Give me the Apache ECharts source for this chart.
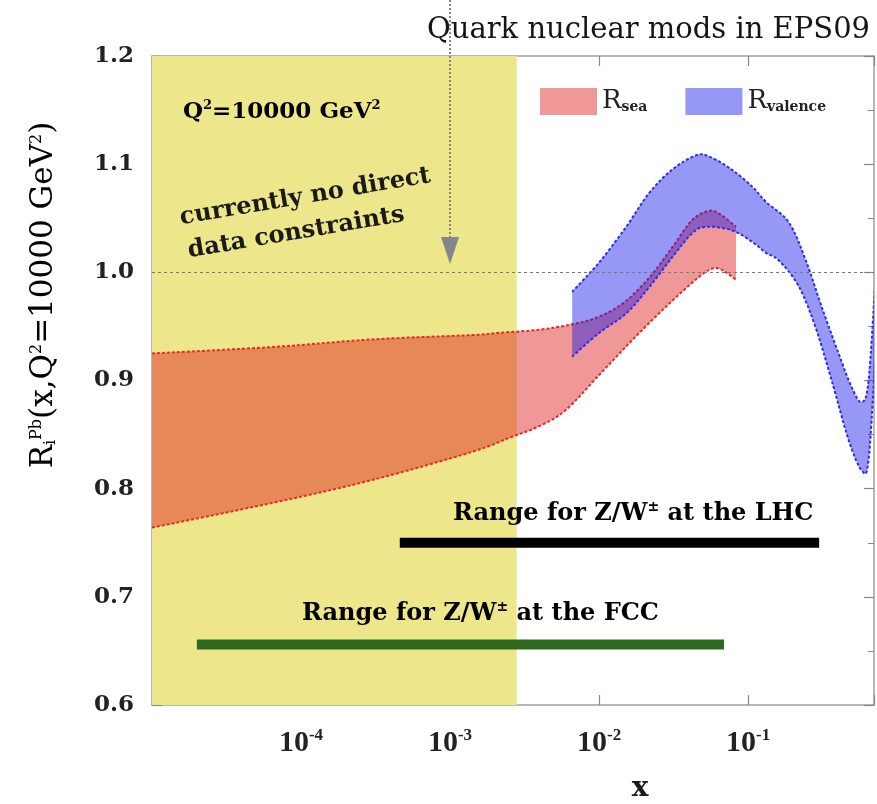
<!DOCTYPE html>
<html><head><meta charset="utf-8">
<script src="https://cdn.jsdelivr.net/npm/echarts@6/dist/echarts.min.js"></script>
<style>html,body{margin:0;padding:0;background:#fff}#c{width:877px;height:804px}</style>
</head><body><div id="c"></div>
<script>
// ---- data ----
const seaUpperX = [1e-5, 6.5e-5, 3e-4, 1.4e-3, 2.1e-3, 4e-3, 6.6e-3, 0.01, 0.015, 0.022, 0.031, 0.042, 0.055, 0.066, 0.083];
const seaUpperY = [0.925, 0.931, 0.938, 0.942, 0.944, 0.947, 0.952, 0.959, 0.973, 0.996, 1.023, 1.048, 1.057, 1.053, 1.042];
const seaLowerX = [1e-5, 6.5e-5, 3e-4, 1.4e-3, 2.6e-3, 4e-3, 6e-3, 0.01, 0.0166, 0.028, 0.047, 0.060, 0.071, 0.083];
const seaLowerY = [0.764, 0.787, 0.808, 0.834, 0.848, 0.858, 0.873, 0.905, 0.937, 0.968, 0.996, 1.004, 1.0, 0.993];
const valUpperX = [6.6e-3, 0.01, 0.0152, 0.0216, 0.031, 0.0446, 0.055, 0.0776, 0.107, 0.132, 0.188, 0.244, 0.312, 0.405, 0.495, 0.578, 0.644, 0.72];
const valUpperY = [0.982, 1.009, 1.042, 1.073, 1.095, 1.108, 1.107, 1.095, 1.079, 1.065, 1.046, 1.011, 0.968, 0.925, 0.894, 0.880, 0.900, 1.0];
const valLowerX = [6.6e-3, 0.01, 0.0152, 0.0216, 0.031, 0.042, 0.052, 0.0776, 0.107, 0.132, 0.161, 0.219, 0.284, 0.364, 0.473, 0.578, 0.644, 0.72];
const valLowerY = [0.922, 0.944, 0.962, 0.986, 1.014, 1.036, 1.042, 1.039, 1.028, 1.018, 1.011, 0.987, 0.949, 0.900, 0.845, 0.817, 0.827, 0.93];
const lhcRange = [4.6e-4, 0.30], lhcLevel = 0.750;
const fccRange = [2e-5, 0.069], fccLevel = 0.656;
const noDataRange = [1e-5, 0.0028];
const arrowX = 1e-3;
const refLevel = 1.0;
const xMin = 1e-5, xMax = 0.70, yMin = 0.6, yMax = 1.2, yStep = 0.1;

const SERIF = "'DejaVu Serif', serif";
const chart = echarts.init(document.getElementById('c'));

function f(p) { return p[0].toFixed(2) + ' ' + p[1].toFixed(2); }
function curve(pts) {
  let s = '';
  const n = pts.length, k = 1 / 6;
  for (let i = 0; i < n - 1; i++) {
    const p0 = pts[Math.max(i - 1, 0)], p1 = pts[i], p2 = pts[i + 1], p3 = pts[Math.min(i + 2, n - 1)];
    const c1 = [p1[0] + (p2[0] - p0[0]) * k, p1[1] + (p2[1] - p0[1]) * k];
    const c2 = [p2[0] - (p3[0] - p1[0]) * k, p2[1] - (p3[1] - p1[1]) * k];
    s += ' C ' + f(c1) + ' ' + f(c2) + ' ' + f(p2);
  }
  return s;
}

function band(name, ux, uy, lx, ly, fill, edge) {
  return {
    type: 'custom', name: name, coordinateSystem: 'cartesian2d', clip: true, z: 3,
    itemStyle: { color: fill },
    data: [[ux[0], uy[0]]],
    encode: { x: 0, y: 1 },
    renderItem: function (params, api) {
      const up = ux.map((x, i) => api.coord([x, uy[i]]));
      const lo = lx.map((x, i) => api.coord([x, ly[i]]));
      const rlo = lo.slice().reverse();
      const fillPath = 'M ' + f(up[0]) + curve(up) + ' L ' + f(rlo[0]) + curve(rlo) + ' Z';
      const upPath = 'M ' + f(up[0]) + curve(up);
      const loPath = 'M ' + f(lo[0]) + curve(lo);
      const es = { fill: 'none', stroke: edge, lineWidth: 2, lineDash: [3, 2] };
      return {
        type: 'group', children: [
          { type: 'path', shape: { pathData: fillPath }, style: { fill: fill, stroke: 'none' } },
          { type: 'path', shape: { pathData: upPath }, style: es },
          { type: 'path', shape: { pathData: loPath }, style: es }
        ]
      };
    }
  };
}

const axisLineStyle = { color: '#a0a0a0', width: 1.5 };
const tickStyle = { color: '#888', width: 1.2 };
const option = {
  animation: false,
  title: {
    text: 'Quark nuclear mods in EPS09', left: 422, top: 11,
    textStyle: { fontFamily: SERIF, fontWeight: 'normal', fontSize: 29, color: '#151515' }
  },
  legend: {
    left: 535, top: 83, itemWidth: 57, itemHeight: 27, itemGap: 38, icon: 'rect',
    data: ['sea', 'valence'],
    formatter: n => '{r|R}{s|' + n + '}',
    textStyle: {
      rich: {
        r: { fontFamily: SERIF, fontSize: 26, color: '#222' },
        s: { fontFamily: SERIF, fontSize: 14, color: '#222', fontWeight: 'bold', padding: [12, 0, 0, 0] }
      }
    }
  },
  grid: { left: 152, top: 56, right: 3, bottom: 99 },
  xAxis: [{
    type: 'log', logBase: 10, min: xMin, max: xMax,
    axisLine: { lineStyle: axisLineStyle },
    axisTick: { inside: true, length: 10, lineStyle: tickStyle },
    splitLine: { show: false },
    axisLabel: {
      margin: 22,
      formatter: v => { const e = Math.round(Math.log10(v)); if (e < -4 || e > -1) return ''; return '{b|10}{s|' + e + '}'; },
      rich: {
        b: { fontFamily: "'Liberation Serif', serif", fontWeight: 'bold', fontSize: 30, color: '#222' },
        s: { fontFamily: "'Liberation Serif', serif", fontWeight: 'bold', fontSize: 17, color: '#222', padding: [0, 0, 16, 0] }
      }
    }
  }, {
    type: 'log', logBase: 10, min: xMin, max: xMax, position: 'top',
    axisLine: { lineStyle: axisLineStyle },
    axisTick: { inside: true, length: 10, lineStyle: tickStyle },
    axisLabel: { show: false }, splitLine: { show: false }
  }],
  yAxis: [{
    type: 'value', min: yMin, max: yMax, interval: yStep,
    axisLine: { show: true, lineStyle: axisLineStyle },
    axisTick: { inside: true, length: 10, lineStyle: tickStyle },
    minorTick: { show: true, splitNumber: 2, length: 6, lineStyle: { color: '#888' } },
    splitLine: { show: false },
    axisLabel: { margin: 18, formatter: v => v.toFixed(1), fontFamily: SERIF, fontWeight: 'bold', fontSize: 23, color: '#222' }
  }, {
    type: 'value', min: yMin, max: yMax, interval: yStep, position: 'right',
    axisLine: { show: true, lineStyle: axisLineStyle },
    axisTick: { inside: true, length: 10, lineStyle: tickStyle },
    minorTick: { show: true, splitNumber: 2, length: 6, lineStyle: { color: '#888' } },
    splitLine: { show: false }, axisLabel: { show: false }
  }],
  series: [
    {
      type: 'line', name: 'bg', data: [], z: 1, silent: true,
      markArea: {
        silent: true, itemStyle: { color: '#EEE68B' },
        data: [[{ xAxis: noDataRange[0], yAxis: yMin }, { xAxis: noDataRange[1], yAxis: yMax }]]
      },
      markLine: {
        silent: true, symbol: 'none', label: { show: false },
        lineStyle: { color: '#777', type: [3, 3], width: 1 },
        data: [{ yAxis: refLevel }]
      }
    },
    band('sea', seaUpperX, seaUpperY, seaLowerX, seaLowerY, 'rgba(222,25,25,0.45)', 'rgb(235,40,40)'),
    band('valence', valUpperX, valUpperY, valLowerX, valLowerY, 'rgba(25,25,235,0.45)', 'rgb(45,45,240)'),
    {
      type: 'line', name: 'LHC', symbol: 'none', z: 4,
      data: [[lhcRange[0], lhcLevel], [lhcRange[1], lhcLevel]],
      lineStyle: { color: '#000', width: 10, cap: 'butt' }
    },
    {
      type: 'line', name: 'FCC', symbol: 'none', z: 4,
      data: [[fccRange[0], fccLevel], [fccRange[1], fccLevel]],
      lineStyle: { color: '#2d6a1d', width: 10, cap: 'butt' }
    }
  ]
};
chart.setOption(option);

const ax = chart.convertToPixel({ xAxisIndex: 0 }, arrowX);
const B = { fontFamily: SERIF, fontWeight: 'bold', fill: '#1a1a1a' };
const supRich = (fs, sfs, raise) => ({
  a: { fontFamily: SERIF, fontWeight: 'bold', fontSize: fs, color: '#1a1a1a' },
  s: { fontFamily: SERIF, fontWeight: 'bold', fontSize: sfs, color: '#1a1a1a', padding: [0, 0, raise, 0] }
});
chart.setOption({
  graphic: [
    { type: 'line', shape: { x1: ax, y1: 0, x2: ax, y2: 238 }, style: { stroke: '#85858c', lineWidth: 2, lineDash: [2, 2] }, z: 10 },
    { type: 'polygon', shape: { points: [[ax - 9, 237], [ax + 9, 237], [ax, 264]] }, style: { fill: '#85858c' }, z: 10 },
    { type: 'text', x: 183, y: 125, z: 10, style: { text: '{a|Q}{s|2}{a|=10000 GeV}{s|2}', textVerticalAlign: 'bottom', rich: supRich(23, 13, 13) } },
    { type: 'text', x: 182, y: 230, rotation: 0.168, z: 10, style: Object.assign({ text: 'currently no direct', fontSize: 24, textVerticalAlign: 'bottom' }, B) },
    { type: 'text', x: 190, y: 263, rotation: 0.168, z: 10, style: Object.assign({ text: 'data constraints', fontSize: 24, textVerticalAlign: 'bottom' }, B) },
    { type: 'text', x: 453, y: 527, z: 10, style: { text: '{a|Range for Z/W}{s|±}{a| at the LHC}', textVerticalAlign: 'bottom', rich: supRich(24, 14, 13) } },
    { type: 'text', x: 302, y: 627, z: 10, style: { text: '{a|Range for Z/W}{s|±}{a| at the FCC}', textVerticalAlign: 'bottom', rich: supRich(24, 14, 13) } },
    { type: 'text', x: 640, y: 789, z: 10, style: Object.assign({ text: 'x', fontSize: 28, textAlign: 'center', textVerticalAlign: 'middle' }, B) },
    { type: 'text', x: 44, y: 295, rotation: Math.PI / 2, z: 10, style: { text: '{a|R}{b|i}{c|Pb}{a|(x,Q}{d|2}{a|=10000 GeV}{d|2}{a|)}', textAlign: 'center', textVerticalAlign: 'middle',
      rich: {
        a: { fontFamily: SERIF, fontSize: 31, color: '#1a1a1a' },
        b: { fontFamily: SERIF, fontSize: 16, color: '#1a1a1a', padding: [14, 0, 0, 0] },
        c: { fontFamily: SERIF, fontSize: 16, color: '#1a1a1a', padding: [0, 0, 14, 0] },
        d: { fontFamily: SERIF, fontSize: 16, color: '#1a1a1a', padding: [0, 0, 14, 0] }
      } } }
  ]
});
</script></body></html>
